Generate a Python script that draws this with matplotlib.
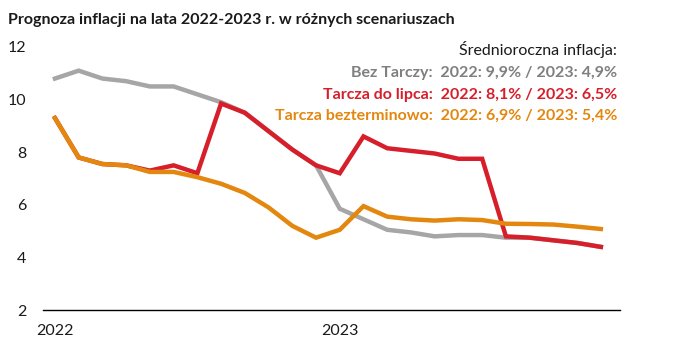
import matplotlib
matplotlib.use("Agg")
import matplotlib.pyplot as plt

plt.rcParams['font.family'] = ['Lato', 'DejaVu Sans']

# miesiace: styczen 2022 - grudzien 2023
months = list(range(24))
tick_pos = [0, 12]
tick_labels = ["2022", "2023"]

bez_tarczy = [10.8, 11.1, 10.8, 10.7, 10.5, 10.5, 10.2, 9.9, 9.5, 8.8, 8.1, 7.5,
              5.85, 5.45, 5.05, 4.95, 4.8, 4.85, 4.85, 4.75, 4.75, 4.65, 4.55, 4.4]
do_lipca = [9.3, 7.8, 7.55, 7.5, 7.3, 7.5, 7.2, 9.85, 9.5, 8.8, 8.1, 7.5,
            7.2, 8.6, 8.15, 8.05, 7.95, 7.75, 7.75, 4.8, 4.75, 4.65, 4.55, 4.4]
bezterminowo = [9.3, 7.8, 7.55, 7.5, 7.25, 7.25, 7.05, 6.8, 6.45, 5.9, 5.2, 4.75,
                5.05, 5.95, 5.55, 5.45, 5.4, 5.45, 5.42, 5.28, 5.27, 5.25, 5.17, 5.08]

c_gray = '#a6a6a6'
c_red = '#d71f2b'
c_orange = '#e3870f'

fig = plt.figure(figsize=(6.73, 3.62), dpi=100)
ax = fig.add_axes([0.064, 0.1436, 0.857, 0.7266])

ax.plot(months, bez_tarczy, color=c_gray, lw=3.2, solid_joinstyle='miter')
ax.plot(months, do_lipca, color=c_red, lw=3.2, solid_joinstyle='miter')
ax.plot(months, bezterminowo, color=c_orange, lw=3.2, solid_joinstyle='miter')

ax.set_ylim(2, 12)
ax.set_xlim(-0.5, 23.8)
ax.set_yticks([2, 4, 6, 8, 10, 12])
ax.set_xticks(tick_pos)
ax.set_xticklabels(tick_labels)
ax.tick_params(length=0, labelsize=11.5, colors='#1a1a1a')
ax.tick_params(axis='y', pad=12)
ax.tick_params(axis='x', pad=10)
for s in ['top', 'right', 'left']:
    ax.spines[s].set_visible(False)
ax.spines['bottom'].set_linewidth(1.0)
ax.spines['bottom'].set_color('black')

fig.text(8/673, 1 - 20/362, "Prognoza inflacji na lata 2022-2023 r. w różnych scenariuszach",
         fontsize=11.5, fontweight='bold', color='#1a1a1a', va='center', ha='left')

x_r = 617/673
fig.text(x_r, 1 - 50/362, "Średnioroczna inflacja:", fontsize=11.5, color='#1a1a1a',
         ha='right', va='center')
fig.text(x_r, 1 - 73/362, "Bez Tarczy:  2022: 9,9% / 2023: 4,9%", fontsize=11.5,
         fontweight='bold', color='#7f7f7f', ha='right', va='center')
fig.text(x_r, 1 - 95/362, "Tarcza do lipca:  2022: 8,1% / 2023: 6,5%", fontsize=11.5,
         fontweight='bold', color=c_red, ha='right', va='center')
fig.text(x_r, 1 - 116/362, "Tarcza bezterminowo:  2022: 6,9% / 2023: 5,4%", fontsize=11.5,
         fontweight='bold', color=c_orange, ha='right', va='center')

fig.savefig("out.png", dpi=100)
